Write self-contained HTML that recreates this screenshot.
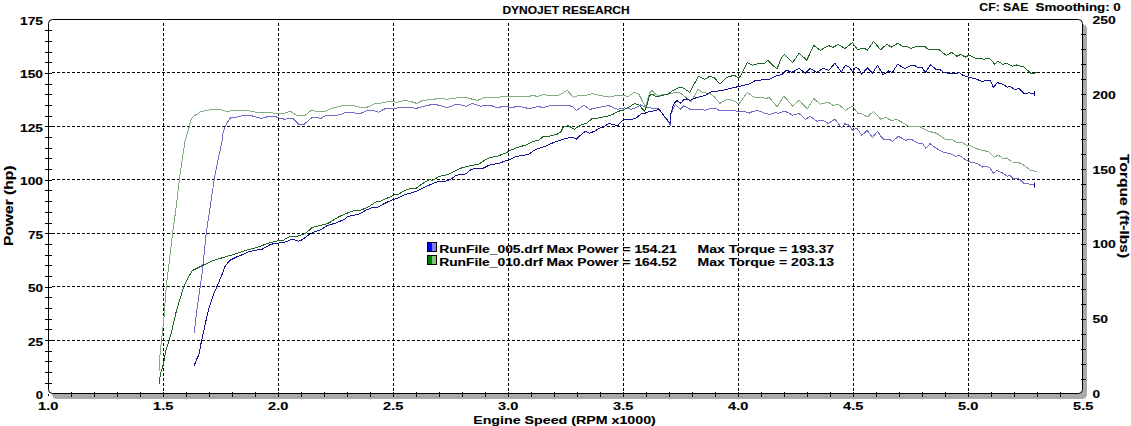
<!DOCTYPE html><html><head><meta charset="utf-8"><style>html,body{margin:0;padding:0;background:#fff;overflow:hidden}svg{display:block}text{font-family:'Liberation Sans',sans-serif;font-weight:bold;fill:#000;stroke:#000;stroke-width:0.12px}</style></head><body>
<svg width="1131" height="426" viewBox="0 0 1131 426">
<rect x="0" y="0" width="1131" height="426" fill="#fff"/>
<rect x="52" y="24" width="1035" height="375" rx="5" fill="#aaaaaa" shape-rendering="crispEdges"/>
<rect x="48.5" y="19.5" width="1034" height="374" rx="4" fill="#fff" stroke="none" shape-rendering="crispEdges"/>
<rect x="427.5" y="242.5" width="9" height="9" fill="#8080ff" stroke="#000"/>
<rect x="428" y="243" width="4" height="8" fill="#0000ff"/>
<rect x="427.5" y="255.5" width="9" height="9" fill="#80c080" stroke="#000"/>
<rect x="428" y="256" width="4" height="8" fill="#008000"/>
<text x="439.2" y="252.7" font-size="10" textLength="237.5" lengthAdjust="spacingAndGlyphs">RunFile_005.drf Max Power = 154.21</text>
<text x="697.5" y="252.7" font-size="10" textLength="136.5" lengthAdjust="spacingAndGlyphs">Max Torque = 193.37</text>
<text x="439.2" y="265.8" font-size="10" textLength="237.5" lengthAdjust="spacingAndGlyphs">RunFile_010.drf Max Power = 164.52</text>
<text x="697.5" y="265.8" font-size="10" textLength="136.5" lengthAdjust="spacingAndGlyphs">Max Torque = 203.13</text>
<path d="M163.5 23V393 M278.5 23V393 M393.5 23V393 M508.5 23V393 M623.5 23V393 M738.5 23V393 M853.5 23V393 M968.5 23V393" stroke="#000" stroke-width="1" stroke-dasharray="3 2" fill="none"/>
<path d="M52 340.5H1082 M52 286.5H1082 M52 233.5H1082 M52 179.5H1082 M52 126.5H1082 M52 72.5H1082" stroke="#000" stroke-width="1" stroke-dasharray="3 2" fill="none"/>
<path d="M48.5 23.5Q48.5 19.5 52.5 19.5H1078.5Q1082.5 19.5 1082.5 23.5V389.5Q1082.5 393.5 1078.5 393.5H52.5Q48.5 393.5 48.5 389.5Z" fill="none" stroke="#000" stroke-width="1"/>
<rect x="48" y="394" width="1" height="2" fill="#000"/>
<path d="M45 383.5H52 M45 372.5H52 M45 361.5H52 M45 351.5H52 M45 340.5H52 M45 329.5H52 M45 319.5H52 M45 308.5H52 M45 297.5H52 M45 287.5H52 M45 276.5H52 M45 265.5H52 M45 255.5H52 M45 244.5H52 M45 233.5H52 M45 223.5H52 M45 212.5H52 M45 201.5H52 M45 190.5H52 M45 180.5H52 M45 169.5H52 M45 158.5H52 M45 148.5H52 M45 137.5H52 M45 126.5H52 M45 116.5H52 M45 105.5H52 M45 94.5H52 M45 84.5H52 M45 73.5H52 M45 62.5H52 M45 52.5H52 M45 41.5H52 M45 30.5H52 M71.5 392V397 M94.5 392V397 M117.5 392V397 M140.5 392V397 M163.5 392V397 M186.5 392V397 M209.5 392V397 M232.5 392V397 M255.5 392V397 M278.5 392V397 M301.5 392V397 M324.5 392V397 M347.5 392V397 M370.5 392V397 M393.5 392V397 M416.5 392V397 M439.5 392V397 M462.5 392V397 M485.5 392V397 M508.5 392V397 M531.5 392V397 M554.5 392V397 M577.5 392V397 M600.5 392V397 M623.5 392V397 M646.5 392V397 M669.5 392V397 M692.5 392V397 M715.5 392V397 M738.5 392V397 M761.5 392V397 M784.5 392V397 M807.5 392V397 M830.5 392V397 M853.5 392V397 M876.5 392V397 M899.5 392V397 M922.5 392V397 M945.5 392V397 M968.5 392V397 M991.5 392V397 M1014.5 392V397 M1037.5 392V397 M1060.5 392V397 M1081 379.5H1086 M1081 364.5H1086 M1081 349.5H1086 M1081 334.5H1086 M1081 319.5H1086 M1081 304.5H1086 M1081 289.5H1086 M1081 274.5H1086 M1081 259.5H1086 M1081 244.5H1086 M1081 229.5H1086 M1081 214.5H1086 M1081 199.5H1086 M1081 184.5H1086 M1081 169.5H1086 M1081 154.5H1086 M1081 139.5H1086 M1081 124.5H1086 M1081 109.5H1086 M1081 94.5H1086 M1081 79.5H1086 M1081 64.5H1086 M1081 49.5H1086 M1081 34.5H1086" stroke="#000" stroke-width="1" fill="none"/>
<polyline points="159.5,371.4 159.5,361.0 160.3,352.0 161.5,340.0 162.5,332.0 164.3,314.4 165.2,299.6 166.3,286.0 168.2,271.0 172.6,233.2 175.5,212.0 179.5,179.4 181.3,165.7 185.0,141.0 186.3,136.7 189.4,126.3 190.3,121.5 192.0,118.1 195.4,115.0 197.6,114.2 200.4,111.9 204.9,110.8 211.7,109.6 220.7,109.4 224.0,110.8 228.0,111.7 231.4,110.5 247.7,110.5 255.6,112.2 271.5,112.2 273.3,113.3 283.9,113.3 290.5,111.2 296.3,115.3 305.1,115.3 311.3,110.3 315.7,111.2 325.5,111.2 331.6,108.3 338.7,106.5 343.0,105.5 348.0,105.2 353.3,105.5 361.2,107.5 367.2,107.2 374.5,103.6 382.4,102.9 389.0,101.3 397.0,102.3 405.0,100.3 411.6,101.7 416.9,103.5 422.2,100.6 432.8,99.3 442.1,98.3 446.1,99.3 452.7,98.6 459.4,97.3 466.0,97.5 472.6,99.3 477.9,100.3 484.6,97.5 490.0,97.5 507.5,96.6 528.8,96.6 532.7,95.3 538.0,96.6 543.4,94.3 548.7,95.9 557.9,95.9 567.2,90.3 573.2,97.2 577.8,95.6 584.5,95.9 592.4,93.5 600.4,95.6 609.7,97.2 615.0,95.6 622.9,95.9 628.7,96.1 634.2,92.3 639.1,94.6 641.9,100.3 645.3,106.6 647.1,101.6 649.8,92.7 652.0,90.4 654.7,93.6 657.8,95.3 662.3,94.9 669.4,94.0 675.6,92.2 679.2,92.5 684.6,96.2 690.0,100.5 691.2,101.5 694.0,96.5 698.0,89.5 703.0,92.5 709.8,93.5 714.4,96.9 720.0,103.3 727.0,99.5 733.0,100.2 738.9,104.0 747.3,92.4 753.5,97.0 760.2,97.7 766.3,98.2 769.4,97.7 777.2,106.8 783.5,96.2 785.0,97.6 789.5,102.3 792.6,106.4 799.1,100.3 807.3,108.8 813.8,98.5 820.2,104.1 828.4,102.3 833.1,105.3 838.4,104.4 845.4,110.2 852.5,106.2 857.8,113.2 862.5,114.1 867.2,117.0 873.6,111.5 880.7,119.1 885.6,117.4 892.0,120.8 896.2,119.1 902.5,122.6 908.2,126.1 919.4,126.4 927.9,131.1 936.3,133.2 946.2,139.9 951.8,139.5 957.5,142.7 961.7,142.3 967.3,145.8 970.1,145.6 975.6,148.4 979.9,149.8 988.3,151.6 994.6,157.3 998.2,155.0 1003.1,158.7 1006.6,158.0 1012.3,162.0 1017.9,162.2 1023.5,164.9 1030.6,170.2 1036.9,171.6" fill="none" stroke="#80ae80" stroke-width="1" shape-rendering="crispEdges"/>
<polyline points="194.3,333.0 196.3,314.4 200.3,286.0 202.3,271.5 206.2,233.0 209.5,211.5 214.2,179.4 216.8,165.7 222.0,141.5 223.0,132.7 225.2,126.3 226.3,124.3 228.0,121.5 230.8,117.5 235.4,117.3 239.9,116.2 246.6,115.3 251.2,115.6 256.5,117.3 262.2,118.4 268.9,116.2 274.2,116.2 278.6,117.8 284.8,119.3 289.2,118.3 292.7,118.4 298.9,124.2 304.2,124.2 312.2,117.4 315.7,117.5 321.0,118.4 325.5,115.6 332.5,115.6 337.0,115.2 340.0,114.8 345.3,112.5 353.3,112.5 357.2,113.5 361.2,113.2 366.5,110.8 373.8,110.5 378.5,112.3 385.1,108.6 393.0,108.6 399.7,107.6 412.9,107.6 415.6,108.6 422.2,106.6 432.8,104.3 440.8,105.5 446.1,107.5 450.1,106.8 455.4,104.3 459.4,104.6 466.0,106.3 472.0,103.5 480.6,106.2 485.9,105.2 490.3,105.2 496.9,107.6 504.9,106.3 511.5,107.6 518.2,106.3 527.4,108.2 531.4,108.2 538.0,106.5 543.4,107.6 551.3,105.2 567.2,105.2 572.5,106.5 576.5,110.5 583.8,105.2 589.8,109.4 597.7,107.6 608.3,105.5 617.6,109.4 624.3,107.9 630.9,109.2 635.0,108.2 640.5,105.0 644.7,106.9 647.1,107.4 653.4,108.3 658.7,108.5 670.5,125.1 670.8,114.2 675.2,104.3 680.2,109.3 683.7,106.0 690.0,109.2 695.6,109.2 702.2,109.4 705.0,110.3 711.6,108.0 716.3,108.7 719.1,110.3 734.1,110.3 737.0,111.2 744.5,111.5 749.2,113.1 752.0,111.7 757.6,110.3 761.4,111.9 765.1,113.6 769.8,114.3 774.5,112.7 778.3,113.1 784.8,111.2 789.5,113.4 792.0,115.2 799.1,113.5 805.5,119.3 810.2,116.4 816.7,121.1 823.1,120.5 828.4,123.5 834.9,119.1 841.3,127.6 844.9,123.8 849.0,125.2 852.8,130.5 856.6,128.1 861.9,135.2 867.2,130.5 872.4,137.5 877.7,131.3 880.0,135.3 884.2,139.9 889.2,139.2 892.7,141.3 898.3,136.3 905.4,140.2 911.0,139.2 918.0,143.0 922.3,143.3 925.8,148.4 930.0,143.7 936.3,148.4 943.4,152.2 950.4,153.6 956.1,156.8 958.9,155.0 965.9,159.9 971.5,162.7 977.0,163.2 982.7,167.1 984.1,166.3 989.7,167.4 993.2,173.3 996.8,170.5 1003.1,173.3 1007.3,176.1 1010.1,175.6 1013.7,179.0 1018.6,178.4 1024.2,183.6 1029.2,184.0 1034.1,184.6" fill="none" stroke="#6e6ec8" stroke-width="1" shape-rendering="crispEdges"/>
<polyline points="159.3,384.4 160.3,374.3 162.6,367.0 164.3,359.5 165.5,352.0 166.7,347.7 169.2,340.3 171.6,331.5 175.9,312.9 180.3,298.1 183.7,286.3 189.2,275.9 192.2,270.6 202.5,265.5 213.6,260.3 224.0,257.3 238.8,252.9 245.0,250.6 256.7,247.6 268.5,243.1 279.0,240.6 283.7,240.0 289.6,236.5 297.8,236.1 304.9,233.8 312.5,227.3 324.8,224.4 329.5,222.6 338.9,216.7 346.5,213.4 354.2,210.4 360.6,210.2 368.4,206.9 376.1,201.8 381.3,200.9 387.7,197.9 394.2,194.9 398.1,194.4 404.5,190.8 409.7,188.6 416.1,188.2 422.6,183.5 429.0,179.8 432.9,180.2 438.9,176.5 447.9,174.5 455.6,170.6 462.1,167.7 471.1,165.5 478.9,164.2 485.3,159.7 490.5,157.4 496.9,156.5 502.1,154.3 505.3,153.5 509.8,150.6 517.6,147.4 525.3,145.2 533.1,141.4 539.0,140.0 542.9,136.8 549.4,136.1 557.1,134.2 561.0,131.6 563.5,126.5 568.1,125.8 571.3,127.4 574.5,129.4 579.0,125.8 586.8,123.0 591.9,118.7 599.7,117.8 607.4,116.1 612.6,114.5 617.7,111.4 622.9,110.3 629.2,106.9 634.9,103.5 639.1,104.9 644.5,111.4 646.7,106.5 648.9,97.1 650.7,94.5 653.4,94.9 656.9,97.0 660.5,95.8 666.7,94.5 669.4,93.1 672.9,90.4 678.5,87.6 682.7,87.6 689.8,92.3 693.8,84.7 698.4,76.3 704.5,79.4 709.8,76.3 714.4,77.8 719.8,83.9 726.6,77.4 734.3,75.2 738.9,78.3 741.9,73.2 747.3,62.6 752.6,65.2 758.7,63.6 764.8,63.3 767.9,60.3 772.4,64.8 777.0,69.1 781.6,57.2 784.7,54.5 792.6,62.6 799.1,53.2 806.7,60.2 813.8,45.6 820.2,50.3 828.4,45.6 833.1,47.3 838.4,44.4 844.9,48.5 852.5,42.6 857.2,49.3 864.8,48.5 867.2,50.3 873.6,41.5 880.7,49.7 886.5,44.4 891.7,47.1 897.6,43.2 902.3,46.2 907.0,46.7 911.1,48.5 916.4,46.4 924.6,46.4 928.1,49.3 938.7,49.3 946.3,55.5 951.6,52.4 956.9,56.4 961.0,54.1 965.1,57.3 969.2,55.0 975.6,58.4 979.9,58.8 984.1,59.1 989.7,58.4 994.6,64.0 998.2,61.2 1003.1,64.7 1005.9,63.0 1012.3,66.1 1016.5,65.0 1023.5,66.8 1027.7,70.4 1030.6,73.2 1036.9,72.9" fill="none" stroke="#1e6423" stroke-width="1" shape-rendering="crispEdges"/>
<polyline points="194.3,366.2 195.5,361.8 198.7,355.1 200.2,347.7 201.7,340.0 203.6,331.5 207.7,312.9 210.7,302.5 214.3,292.2 217.3,286.0 223.2,271.5 224.5,267.0 229.9,260.3 237.3,256.6 243.2,254.4 249.7,251.4 262.6,249.0 270.8,244.3 277.9,243.1 283.7,242.6 292.0,239.3 299.0,241.2 302.5,239.6 309.6,234.3 315.4,231.4 321.3,229.6 327.2,225.5 335.4,223.2 344.8,219.1 347.7,216.6 359.4,214.0 365.8,210.2 372.3,207.6 378.7,206.9 385.2,203.1 392.9,199.6 398.1,197.9 404.5,194.7 412.3,192.7 417.4,190.8 423.9,187.6 431.6,184.1 438.0,181.6 445.3,181.4 451.8,178.8 455.6,175.4 466.0,173.9 471.1,169.4 476.3,168.5 482.7,168.5 489.2,165.1 499.5,163.3 504.7,161.0 509.8,159.4 516.3,156.5 524.0,155.2 529.2,153.9 533.0,151.0 537.7,148.8 546.8,145.8 551.9,143.2 561.0,140.0 568.7,137.7 572.6,137.2 576.5,139.0 581.6,134.2 585.5,131.2 589.4,133.3 594.5,131.2 599.7,128.1 603.5,127.1 608.7,123.5 612.6,124.5 617.7,125.8 621.6,121.3 625.5,119.4 630.6,120.0 636.3,117.9 641.9,113.4 644.5,113.4 648.9,111.8 653.4,110.9 657.3,110.0 658.7,108.8 669.3,122.6 670.6,123.5 670.7,114.5 671.7,110.7 673.1,105.7 675.2,102.2 677.0,100.5 680.2,103.3 682.0,101.9 683.7,99.6 686.3,98.9 690.0,100.5 696.1,97.7 705.3,95.4 711.4,91.6 720.5,90.8 729.7,88.5 738.9,86.5 749.5,83.9 755.6,80.4 769.4,79.4 777.0,75.5 781.6,74.8 786.2,70.2 792.0,72.3 799.1,68.5 805.5,73.1 810.2,68.5 816.7,72.3 823.1,68.5 829.0,70.2 834.9,63.2 841.3,72.0 845.4,65.3 849.0,66.7 852.8,72.0 855.4,67.3 858.4,68.5 861.9,74.3 867.2,67.9 872.4,73.1 877.7,65.3 883.0,74.9 888.8,70.8 892.3,72.6 897.6,64.3 904.6,68.5 911.1,65.5 915.2,65.8 918.1,67.9 922.3,67.6 925.2,72.6 930.5,64.9 936.3,69.6 939.9,69.6 943.4,72.3 950.4,73.7 956.3,74.0 959.2,72.6 963.3,75.5 969.2,77.3 975.0,78.6 983.4,81.9 984.1,80.5 990.4,80.5 993.2,87.3 997.5,82.7 1003.1,84.4 1007.3,87.3 1010.1,86.1 1014.4,89.4 1019.3,88.7 1024.2,93.6 1029.2,92.9 1034.1,93.6" fill="none" stroke="#141490" stroke-width="1" shape-rendering="crispEdges"/>
<path d="M1034.5 91V96M1034.5 182.5V187.5" stroke="#00008c" stroke-width="1"/>
<text x="43.0" y="398.7" font-size="10" text-anchor="end" textLength="7.25" lengthAdjust="spacingAndGlyphs">0</text>
<text x="43.0" y="345.7" font-size="10" text-anchor="end" textLength="15.1" lengthAdjust="spacingAndGlyphs">25</text>
<text x="43.0" y="291.7" font-size="10" text-anchor="end" textLength="15.1" lengthAdjust="spacingAndGlyphs">50</text>
<text x="43.0" y="238.7" font-size="10" text-anchor="end" textLength="15.1" lengthAdjust="spacingAndGlyphs">75</text>
<text x="43.0" y="184.7" font-size="10" text-anchor="end" textLength="22.95" lengthAdjust="spacingAndGlyphs">100</text>
<text x="43.0" y="131.7" font-size="10" text-anchor="end" textLength="22.95" lengthAdjust="spacingAndGlyphs">125</text>
<text x="43.0" y="77.7" font-size="10" text-anchor="end" textLength="22.95" lengthAdjust="spacingAndGlyphs">150</text>
<text x="43.0" y="24.7" font-size="10" text-anchor="end" textLength="22.95" lengthAdjust="spacingAndGlyphs">175</text>
<text x="1092.5" y="397.85" font-size="10" textLength="7.55" lengthAdjust="spacingAndGlyphs">0</text>
<text x="1092.5" y="322.85" font-size="10" textLength="15.4" lengthAdjust="spacingAndGlyphs">50</text>
<text x="1092.5" y="247.85" font-size="10" textLength="23.25" lengthAdjust="spacingAndGlyphs">100</text>
<text x="1092.5" y="173.85" font-size="10" textLength="23.25" lengthAdjust="spacingAndGlyphs">150</text>
<text x="1092.5" y="98.85" font-size="10" textLength="23.25" lengthAdjust="spacingAndGlyphs">200</text>
<text x="1092.5" y="23.85" font-size="10" textLength="23.25" lengthAdjust="spacingAndGlyphs">250</text>
<text x="48.2" y="410.4" font-size="10" text-anchor="middle" textLength="20.2" lengthAdjust="spacingAndGlyphs">1.0</text>
<text x="163.2" y="410.4" font-size="10" text-anchor="middle" textLength="20.2" lengthAdjust="spacingAndGlyphs">1.5</text>
<text x="278.2" y="410.4" font-size="10" text-anchor="middle" textLength="20.2" lengthAdjust="spacingAndGlyphs">2.0</text>
<text x="393.2" y="410.4" font-size="10" text-anchor="middle" textLength="20.2" lengthAdjust="spacingAndGlyphs">2.5</text>
<text x="508.2" y="410.4" font-size="10" text-anchor="middle" textLength="20.2" lengthAdjust="spacingAndGlyphs">3.0</text>
<text x="623.2" y="410.4" font-size="10" text-anchor="middle" textLength="20.2" lengthAdjust="spacingAndGlyphs">3.5</text>
<text x="738.2" y="410.4" font-size="10" text-anchor="middle" textLength="20.2" lengthAdjust="spacingAndGlyphs">4.0</text>
<text x="853.2" y="410.4" font-size="10" text-anchor="middle" textLength="20.2" lengthAdjust="spacingAndGlyphs">4.5</text>
<text x="968.2" y="410.4" font-size="10" text-anchor="middle" textLength="20.2" lengthAdjust="spacingAndGlyphs">5.0</text>
<text x="1083.2" y="410.4" font-size="10" text-anchor="middle" textLength="20.2" lengthAdjust="spacingAndGlyphs">5.5</text>
<text x="502.4" y="13.8" font-size="10.4" textLength="127.3" lengthAdjust="spacingAndGlyphs">DYNOJET RESEARCH</text>
<text x="979.3" y="11.2" font-size="10" textLength="49.0" lengthAdjust="spacingAndGlyphs">CF: SAE</text>
<text x="1035.6" y="11.2" font-size="10" textLength="85.2" lengthAdjust="spacingAndGlyphs">Smoothing: 0</text>
<text x="473.2" y="423.9" font-size="11.8" textLength="182.6" lengthAdjust="spacingAndGlyphs">Engine Speed (RPM x1000)</text>
<text x="0" y="0" font-size="12" textLength="80.6" lengthAdjust="spacingAndGlyphs" text-anchor="middle" transform="translate(12.8 205.8) rotate(-90)">Power (hp)</text>
<text x="0" y="0" font-size="12" textLength="104" lengthAdjust="spacingAndGlyphs" text-anchor="middle" transform="translate(1119.6 206.1) rotate(90)">Torque (ft-lbs)</text>
</svg></body></html>
